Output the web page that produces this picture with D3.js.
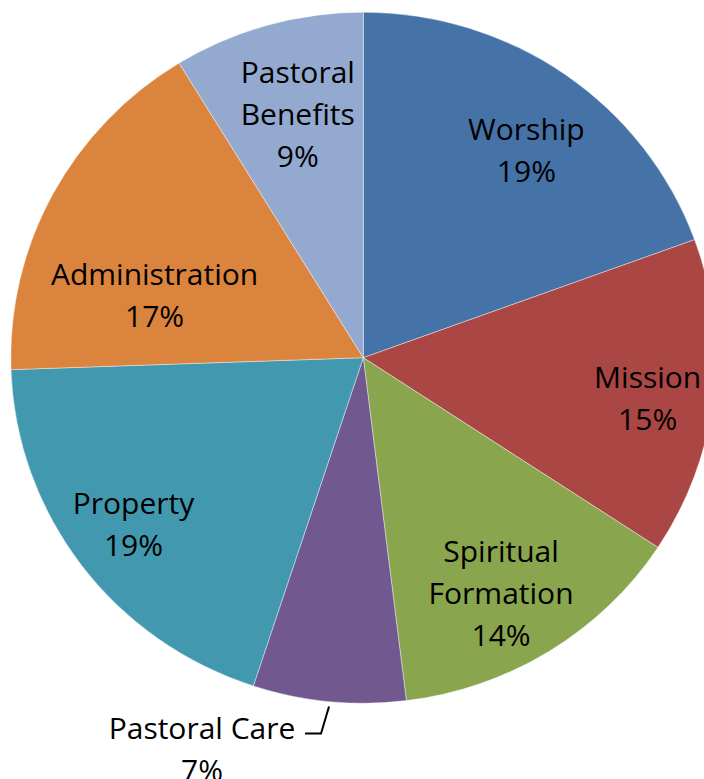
<!DOCTYPE html>
<html>
<head>
<meta charset="utf-8">
<script src="https://cdn.jsdelivr.net/npm/d3@7"></script>
<style>
  html, body { margin: 0; padding: 0; background: #fff; }
  svg { display: block; }
</style>
</head>
<body>
<svg id="chart" width="704" height="779"></svg>
<script>
// Budget categories (clockwise from 12 o'clock)
const categories = ['Worship', 'Mission', 'Spiritual Formation', 'Pastoral Care', 'Property', 'Administration', 'Pastoral Benefits'];
const shares = [19.45, 14.8, 13.8, 7.0, 19.4, 16.8, 8.75];
const labelLines = [['Worship'], ['Mission'], ['Spiritual', 'Formation'], ['Pastoral Care'], ['Property'], ['Administration'], ['Pastoral', 'Benefits']];
const colors = ['#4572A7', '#AA4643', '#89A54E', '#71588F', '#4198AF', '#DB843D', '#93A9CF'];

// Layout
const width = 704, height = 779;
const cx = 363.3, cy = 357.7;
const rx = 352.5, ry = 345.5;
const fontSize = 30, lineH = 42;

// label placement: radial fraction and angle nudge (degrees) per slice
const labelR = [0.76, 0.815, 0.785, 1.0, 0.81, 0.62, 0.73];
const labelNudge = [2.5, 1.5, 2, 0, 0.5, -11, 1];

const svg = d3.select('#chart');
const g = svg.append('g')
    .attr('transform', `translate(${cx},${cy}) scale(${rx / ry},1)`);

const data = categories.map((c, i) => ({ name: c, value: shares[i], lines: labelLines[i], color: colors[i], i }));
const total = d3.sum(shares);

const pie = d3.pie().value(d => d.value).sort(null);
const arcs = pie(data);
const arc = d3.arc().innerRadius(0).outerRadius(ry);

g.selectAll('path.slice')
    .data(arcs)
    .join('path')
    .attr('class', 'slice')
    .attr('d', arc)
    .attr('fill', d => d.data.color)
    .attr('stroke', 'rgba(255,255,255,0.5)')
    .attr('stroke-width', 0.8);

const pct = d3.format('.0%');

// text layer (no horizontal stretch)
const t = svg.append('g').attr('transform', `translate(${cx},${cy})`)
    .style('font-family', '"Open Sans", sans-serif')
    .style('font-size', fontSize + 'px')
    .attr('fill', '#000');

arcs.forEach((a, k) => {
    const d = a.data;
    const mid = (a.startAngle + a.endAngle) / 2 + labelNudge[k] * Math.PI / 180;
    let x = Math.sin(mid) * rx * labelR[k];
    let y = -Math.cos(mid) * ry * labelR[k];
    const lines = d.lines.concat([pct(d.value / total)]);

    if (d.name === 'Pastoral Care') {
        // outside label with leader line
        const ex = Math.sin(mid) * rx, ey = -Math.cos(mid) * ry;
        x = ex - 127;
        y = ey + 26 + lineH / 2;
        t.append('path')
            .attr('d', `M${ex - 24},${ey + 32}H${ex - 8}L${ex},${ey + 5}`)
            .attr('fill', 'none')
            .attr('stroke', '#000')
            .attr('stroke-width', 2);
    }

    const y0 = y - (lines.length - 1) * lineH / 2;
    lines.forEach((ln, j) => {
        t.append('text')
            .attr('x', x)
            .attr('y', y0 + j * lineH)
            .attr('text-anchor', 'middle')
            .attr('dominant-baseline', 'central')
            .text(ln);
    });
});
</script>
</body>
</html>
